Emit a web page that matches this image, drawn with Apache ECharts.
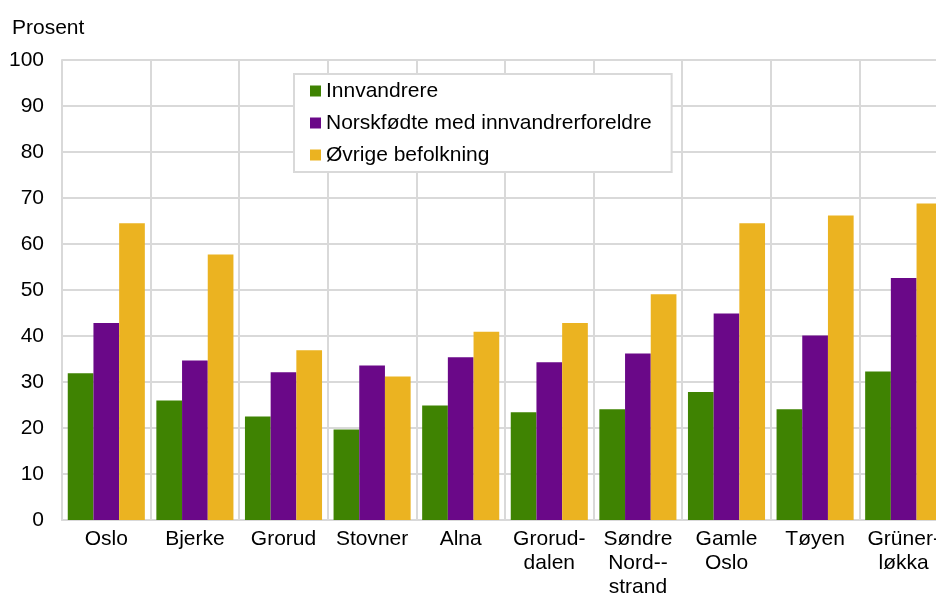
<!DOCTYPE html>
<html lang="no">
<head>
<meta charset="UTF-8">
<title>Prosent</title>
<style>
html, body { margin: 0; padding: 0; background: #fff; }
#chart { width: 936px; height: 594px; }
</style>
</head>
<body>
<div id="chart"></div>
<script src="https://cdn.jsdelivr.net/npm/echarts@6/dist/echarts.min.js"></script>
<script>
var categories = ['Oslo', 'Bjerke', 'Grorud', 'Stovner', 'Alna', 'Grorud-\ndalen', 'Søndre\nNord--\nstrand', 'Gamle\nOslo', 'Tøyen', 'Grüner-\nløkka'];
var innvandrere = [31.9, 26.0, 22.5, 19.7, 24.9, 23.4, 24.1, 27.8, 24.1, 32.3];
var norskfodte = [42.8, 34.7, 32.1, 33.6, 35.4, 34.3, 36.2, 44.9, 40.1, 52.6];
var ovrige = [64.5, 57.7, 36.9, 31.2, 40.9, 42.8, 49.1, 64.5, 66.2, 68.8];
var yTicks = [0, 100, 10];

var font = '"Liberation Sans", Arial, sans-serif';
var gridColor = '#d9d9d9';

var chart = echarts.init(document.getElementById('chart'));

var option = {
    animation: false,
    color: ['#3f8302', '#6a0888', '#ebb321'],
    textStyle: { fontFamily: font, color: '#000' },
    title: {
        text: 'Prosent',
        left: 7,
        top: 13,
        textStyle: { fontFamily: font, fontSize: 21, fontWeight: 'normal', color: '#000' }
    },
    legend: {
        orient: 'vertical',
        left: 294,
        top: 74,
        padding: [6, 20, 6, 16],
        itemGap: 10,
        itemWidth: 11,
        itemHeight: 11,
        icon: 'rect',
        backgroundColor: '#fff',
        borderColor: gridColor,
        borderWidth: 2,
        textStyle: { fontFamily: font, fontSize: 21, lineHeight: 22, color: '#000' }
    },
    grid: {
        left: 62,
        top: 60,
        width: 886,
        bottom: 74,
        containLabel: false,
        outerBoundsMode: 'none'
    },
    xAxis: {
        type: 'category',
        data: categories,
        axisLine: { lineStyle: { color: gridColor, width: 2 } },
        axisTick: { show: false },
        splitLine: { show: true, lineStyle: { color: gridColor, width: 2 } },
        axisLabel: {
            interval: 0,
            margin: 7,
            fontFamily: font,
            fontSize: 21,
            lineHeight: 24,
            color: '#000'
        }
    },
    yAxis: {
        type: 'value',
        min: yTicks[0],
        max: yTicks[1],
        interval: yTicks[2],
        axisLine: { show: true, lineStyle: { color: gridColor, width: 2 } },
        axisTick: { show: false },
        splitLine: { lineStyle: { color: gridColor, width: 2 } },
        axisLabel: { margin: 18, fontFamily: font, fontSize: 21, color: '#000' }
    },
    series: [
        { name: 'Innvandrere', type: 'bar', data: innvandrere, barGap: '0%', barCategoryGap: '13%' },
        { name: 'Norskfødte med innvandrerforeldre', type: 'bar', data: norskfodte, barGap: '0%', barCategoryGap: '13%' },
        { name: 'Øvrige befolkning', type: 'bar', data: ovrige, barGap: '0%', barCategoryGap: '13%' }
    ]
};

chart.setOption(option);
</script>
</body>
</html>
